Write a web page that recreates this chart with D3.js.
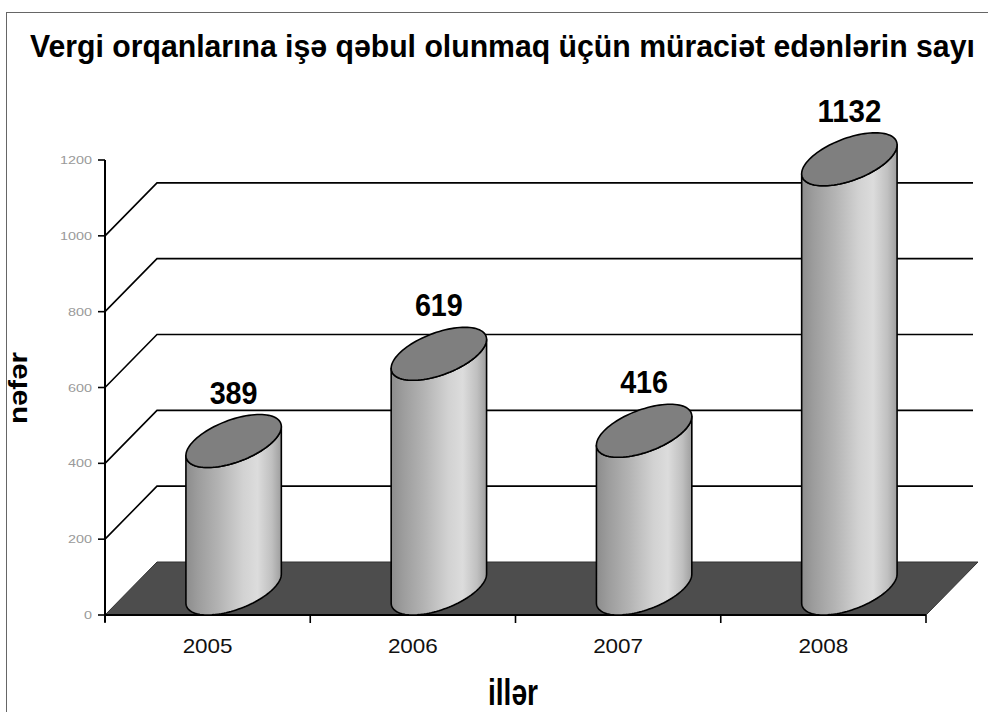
<!DOCTYPE html>
<html>
<head>
<meta charset="utf-8">
<script src="https://cdn.jsdelivr.net/npm/d3@7"></script>
<style>
  html, body { margin: 0; padding: 0; background: #fff; }
  svg { display: block; }
</style>
</head>
<body>
<svg width="988" height="712"></svg>
<script>
const title = 'Vergi orqanlarına işə qəbul olunmaq üçün müraciət edənlərin sayı';
const years = ['2005', '2006', '2007', '2008'];
const counts = [389, 619, 416, 1132];
const yTicks = [0, 200, 400, 600, 800, 1000, 1200];
const gridValues = [200, 400, 600, 800, 1000];

const svg = d3.select('svg');
const font = '"Liberation Sans", Arial, sans-serif';

// depth of the 3d box
const depth = {x: 52, y: 53};

const x = d3.scaleBand().domain(years).range([105, 926]).padding(0);
const y = d3.scaleLinear().domain([0, 1200]).range([615, 160]);

// frame
svg.append('rect')
    .attr('x', 6.5).attr('y', 12.5)
    .attr('width', 1000).attr('height', 720)
    .attr('fill', 'none')
    .attr('stroke', '#666')
    .attr('stroke-width', 1);

// title, squeezed to fit the width with a transform
const titleText = svg.append('text')
    .attr('x', 0).attr('y', 0)
    .attr('font-family', font)
    .attr('font-weight', 'bold')
    .attr('font-size', 27)
    .attr('fill', '#000')
    .text(title);
const tw = titleText.node().getComputedTextLength();
titleText.attr('transform', `translate(30,57) scale(${945 / tw},1.15)`);

// floor
const x0 = x.range()[0], x1 = x.range()[1];
svg.append('path')
    .attr('d', `M${x0},${y(0)} L${x0 + depth.x},${y(0) - depth.y} L${x1 + depth.x},${y(0) - depth.y} L${x1},${y(0)} Z`)
    .attr('fill', '#4d4d4d')
    .attr('stroke', '#333')
    .attr('stroke-width', 1);

// back wall gridlines
const grid = svg.append('g').attr('class', 'grid');
gridValues.forEach(v => {
    grid.append('path')
        .attr('d', `M${x0},${y(v)} L${x0 + depth.x},${y(v) - depth.y} L${x1 + depth.x - 5},${y(v) - depth.y}`)
        .attr('fill', 'none')
        .attr('stroke', '#000')
        .attr('stroke-width', 1.6);
});

// y axis
const yAxis = svg.append('g');
yAxis.append('line')
    .attr('x1', x0).attr('x2', x0)
    .attr('y1', y(1200)).attr('y2', y(0) + 7)
    .attr('stroke', '#000').attr('stroke-width', 2);
yTicks.forEach(t => {
    yAxis.append('line')
        .attr('x1', x0 - 7).attr('x2', x0)
        .attr('y1', y(t)).attr('y2', y(t))
        .attr('stroke', '#000').attr('stroke-width', 1.6);
    const s = String(t);
    yAxis.append('text')
        .attr('x', x0 - 13).attr('y', y(t) + 4)
        .attr('text-anchor', 'end')
        .attr('font-family', font)
        .attr('font-size', 10)
        .attr('textLength', s.length * 8)
        .attr('lengthAdjust', 'spacingAndGlyphs')
        .attr('fill', '#9a9a9a')
        .text(s);
});

// x axis
const xAxis = svg.append('g');
xAxis.append('line')
    .attr('x1', x0).attr('x2', x1)
    .attr('y1', y(0)).attr('y2', y(0))
    .attr('stroke', '#000').attr('stroke-width', 2);
years.concat(['end']).forEach((d, i) => {
    const px = x0 + i * x.bandwidth();
    xAxis.append('line')
        .attr('x1', px).attr('x2', px)
        .attr('y1', y(0)).attr('y2', y(0) + 8)
        .attr('stroke', '#000').attr('stroke-width', 1.6);
});
xAxis.selectAll('text.year')
    .data(years)
    .join('text')
    .attr('class', 'year')
    .attr('x', d => x(d) + x.bandwidth() / 2)
    .attr('y', 653)
    .attr('text-anchor', 'middle')
    .attr('font-family', font)
    .attr('font-size', 21)
    .attr('textLength', 50)
    .attr('lengthAdjust', 'spacingAndGlyphs')
    .attr('fill', '#111')
    .text(d => d);

// cylinder gradient
const defs = svg.append('defs');
const grad = defs.append('linearGradient')
    .attr('id', 'cyl')
    .attr('x1', '0%').attr('x2', '100%')
    .attr('y1', '0%').attr('y2', '0%');
[[0, '#8c8c8c'], [0.12, '#9c9c9c'], [0.35, '#b4b4b4'], [0.6, '#d2d2d2'], [0.75, '#dcdcdc'], [0.9, '#c0c0c0'], [1, '#9e9e9e']]
    .forEach(s => grad.append('stop').attr('offset', s[0]).attr('stop-color', s[1]));

// cylinders
const rx = 40;             // half width of the base circle on screen
const rz = 0.5;            // half depth, as part of the box depth
const th0 = Math.atan2(rz * depth.x, rx);

function pt(cx, cy, th) {
    return [cx + rx * Math.cos(th) + rz * depth.x * Math.sin(th), cy - rz * depth.y * Math.sin(th)];
}
function arc(cx, cy, a, b, n) {
    const pts = [];
    for (let i = 0; i <= n; i++) pts.push(pt(cx, cy, a + (b - a) * i / n));
    return pts;
}

const bars = svg.append('g');
counts.forEach((v, i) => {
    const cx = x(years[i]) + x.bandwidth() / 2 + rz * depth.x;
    const cyTop = y(v) - rz * depth.y;
    const cyBot = y(0) - rz * depth.y;

    // body: right side down, front half of base, left side up, front half of top
    const body = []
        .concat(arc(cx, cyBot, th0, th0 - Math.PI, 60))
        .concat(arc(cx, cyTop, th0 - Math.PI, th0, 60));
    bars.append('path')
        .attr('d', d3.line()(body) + 'Z')
        .attr('fill', 'url(#cyl)')
        .attr('stroke', '#000')
        .attr('stroke-width', 1.6)
        .attr('stroke-linejoin', 'round');

    bars.append('path')
        .attr('d', d3.line()(arc(cx, cyTop, 0, Math.PI * 2, 100)) + 'Z')
        .attr('fill', '#7f7f7f')
        .attr('stroke', '#000')
        .attr('stroke-width', 1.6);

    const s = String(v);
    bars.append('text')
        .attr('x', cx)
        .attr('y', cyTop - rz * depth.y - 11)
        .attr('text-anchor', 'middle')
        .attr('font-family', font)
        .attr('font-weight', 'bold')
        .attr('font-size', 31)
        .attr('textLength', s.length * 16)
        .attr('lengthAdjust', 'spacingAndGlyphs')
        .attr('fill', '#000')
        .text(s);
});

// axis titles
svg.append('text')
    .attr('transform', 'translate(27,388) rotate(-90)')
    .attr('text-anchor', 'middle')
    .attr('font-family', font)
    .attr('font-weight', 'bold')
    .attr('font-size', 25)
    .attr('textLength', 72)
    .attr('lengthAdjust', 'spacingAndGlyphs')
    .text('nəfər');

svg.append('text')
    .attr('x', 488).attr('y', 705)
    .attr('font-family', font)
    .attr('font-weight', 'bold')
    .attr('font-size', 36)
    .attr('textLength', 50)
    .attr('lengthAdjust', 'spacingAndGlyphs')
    .text('illər');
</script>
</body>
</html>
